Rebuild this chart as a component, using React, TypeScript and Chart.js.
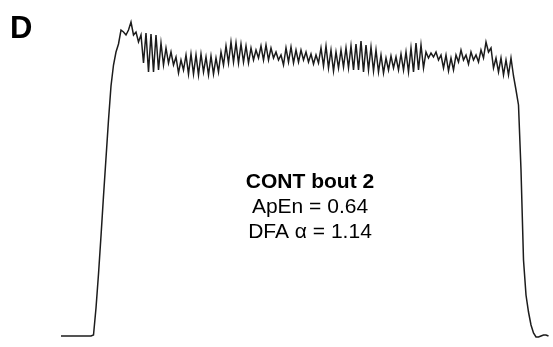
import React, { useEffect, useRef } from "react";
import { Chart, registerables } from "chart.js";

Chart.register(...registerables);

// Force trace (N), sampled every 0.25 s
const SAMPLE_INTERVAL = 0.25;
const force: number[] = [
  0, 0, 0, 0, 0, 0, 0, 0, 0, 0, 0, 0, 0,
  1, 28, 62, 100, 140, 178, 216, 250, 271, 284, 292, 306,
  304, 301, 306, 314, 301, 304, 294,
  301, 273, 303, 264, 302, 264, 301, 266, 293, 271, 288, 273, 284, 271, 279, 263,
  276, 266, 281, 262, 282, 262, 281, 261, 282, 264, 279, 261, 280, 262, 278, 264,
  284, 271, 290, 273, 294, 274, 293, 273, 292, 274, 290,
  273, 288, 276, 286, 278, 290, 276, 291, 276, 288, 278, 284, 276, 281, 271, 288,
  274, 289, 273, 286, 274, 286, 276, 284, 274, 282, 272,
  281, 273, 288, 270, 290, 268, 286, 265, 284, 268, 286, 269, 288, 268, 290, 266,
  292, 266, 295, 264, 291, 266, 289, 265, 286, 264, 281, 263,
  278, 266, 280, 268, 279, 266, 282, 266, 284, 264, 288, 264, 293, 266, 291, 268,
  284, 278, 283, 279, 284, 276, 281, 268, 281, 265, 278, 266,
  281, 274, 286, 276, 281, 272, 284, 276, 281, 274, 286, 278, 294, 284, 288, 268,
  278, 264, 278, 261, 276, 261, 278, 260,
  246, 231, 166, 76, 41, 24, 11, 3, -1, -1, 0, 1, 1, 0,
];
const time: number[] = force.map((_, i) => i * SAMPLE_INTERVAL);

const panelLabel = "D";
const infoLines = ["CONT bout 2", "ApEn = 0.64", "DFA \u03B1 = 1.14"];

const textPlugin = {
  id: "textPlugin",
  afterDraw(chart: any) {
    const ctx = chart.ctx;
    ctx.save();
    ctx.fillStyle = "#000";
    ctx.textBaseline = "alphabetic";
    ctx.textAlign = "left";
    ctx.font = 'bold 31px "Liberation Sans", Arial, sans-serif';
    ctx.fillText(panelLabel, 10, 38);
    ctx.textAlign = "center";
    const cx = 310;
    ctx.font = 'bold 21px "Liberation Sans", Arial, sans-serif';
    ctx.fillText(infoLines[0], cx, 188);
    ctx.font = '21px "Liberation Sans", Arial, sans-serif';
    ctx.fillText(infoLines[1], cx, 213);
    ctx.fillText(infoLines[2], cx, 238);
    ctx.restore();
  },
};

export default function App() {
  const ref = useRef<HTMLCanvasElement | null>(null);
  useEffect(() => {
    if (!ref.current) return;
    const chart = new Chart(ref.current, {
      type: "line",
      data: {
        datasets: [
          {
            data: force.map((f, i) => ({ x: time[i], y: f })),
            borderColor: "#1c1c1c",
            borderWidth: 1.5,
            pointRadius: 0,
            tension: 0,
            fill: false,
          },
        ],
      },
      options: {
        animation: false,
        responsive: true,
        maintainAspectRatio: false,
        layout: { padding: 0 },
        plugins: { legend: { display: false }, tooltip: { enabled: false } },
        scales: {
          x: { type: "linear", min: -6.1, max: 49.2, display: false },
          y: { type: "linear", min: -11, max: 336, display: false },
        },
      },
      plugins: [textPlugin],
    });
    return () => chart.destroy();
  }, []);
  return (
    <div style={{ position: "fixed", left: 0, top: 0, width: 553, height: 347, background: "#fff" }}>
      <canvas ref={ref} />
    </div>
  );
}
